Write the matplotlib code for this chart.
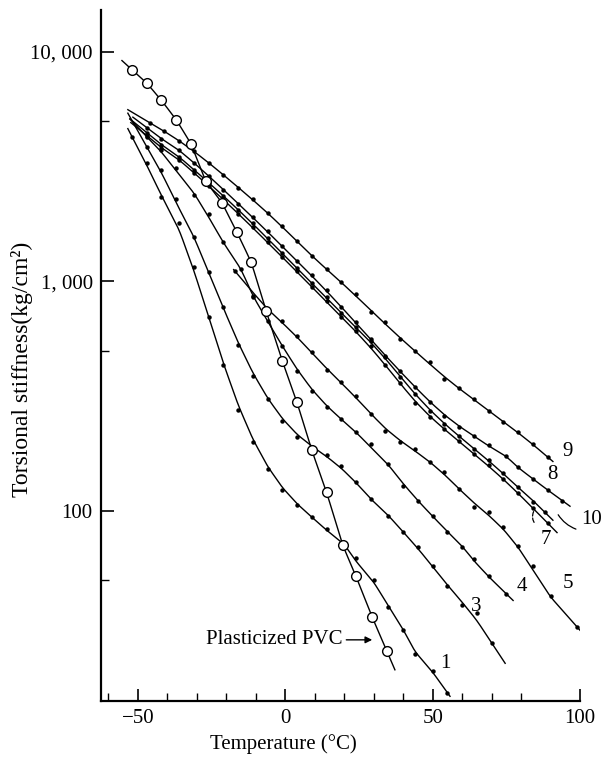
import numpy as np
import matplotlib.pyplot as plt
from matplotlib.ticker import FixedLocator, NullFormatter

plt.rcParams['font.family'] = ['Liberation Serif', 'DejaVu Serif']

# Plasticized PVC (open circles)
pvc_t = [-52, -47, -42, -37, -32, -27, -21.5, -16.5, -11.5, -6.5, -1, 4, 9, 14, 19.5, 24, 29.5, 34.5]
pvc_s = [8356, 7310, 6140, 5060, 3980, 2730, 2205, 1648, 1210, 743, 450, 297, 184, 121, 71, 52, 34.5, 24.5]

# numbered samples (filled dots)
t1 = [-52, -47, -42, -36, -31, -26, -21, -16, -11, -6, -1, 4, 9, 14, 20, 24, 30, 35, 40, 44, 50, 55]
s1 = [4270, 3292, 2342, 1787, 1151, 698, 431, 275, 200, 152, 123, 106, 94.2, 83.5, 71.9, 62.5, 50.1,
      38.2, 30.4, 23.9, 20.2, 16.2]

t3 = [-47, -42, -37, -31, -26, -21, -16, -11, -6, -1, 4, 9, 14, 19, 24, 29, 35, 40, 45, 50, 55, 60, 65, 70]
s3 = [3864, 3069, 2273, 1554, 1094, 771, 527, 386, 307, 246, 210, 190, 175, 157, 134, 113, 95.1, 81.0,
      69.7, 57.7, 47.2, 39.0, 36.0, 26.7]

t4 = [-47, -42, -37, -31, -26, -21, -15, -11, -6, -1, 4, 9, 14, 19, 24, 29, 35, 40, 45, 50, 55, 60, 64, 69, 75]
s4 = [4270, 3749, 3131, 2389, 1956, 1478, 1128, 861, 670, 522, 406, 332, 283, 251, 221, 196, 160, 128,
      111, 95.1, 81.0, 69.7, 61.8, 52.2, 43.6]

t5 = [-17, -11, -6, -1, 4, 9, 14, 19, 24, 29, 34, 39, 44, 49, 54, 59, 64, 69, 74, 79, 84, 90, 99]
s5 = [1106, 852, 748, 670, 577, 491, 410, 364, 316, 264, 223, 200, 186, 163, 148, 125, 104, 99, 85.2,
      70.4, 57.7, 42.7, 31.3]

t7 = [-47, -42, -36, -31, -26, -21, -16, -11, -6, -1, 4, 9, 14, 19, 24, 29, 34, 39, 44, 49, 54, 59, 64, 69,
      74, 79, 84, 89]
s7 = [4313, 3823, 3391, 2978, 2615, 2273, 1975, 1717, 1478, 1272, 1106, 942, 819, 698, 606, 522, 431, 360,
      295, 256, 227, 201, 177, 158, 138, 120, 103, 88.7]

t8 = [-47, -42, -36, -31, -26, -21, -16, -11, -6, -1, 4, 9, 14, 19, 24, 29, 34, 39, 44, 49, 54, 59, 64, 69,
      75, 79, 84, 89, 94]
s8 = [4673, 4184, 3749, 3292, 2890, 2512, 2183, 1898, 1650, 1420, 1222, 1062, 914, 771, 663, 559, 472, 406,
      346, 298, 259, 232, 212, 194, 173, 155, 138, 123, 111]

t9 = [-46, -41, -36, -31, -26, -21, -16, -11, -6, -1, 4, 9, 14, 19, 24, 29, 34, 39, 44, 49, 54, 59, 64, 69,
      74, 79, 84, 89]
s9 = [4913, 4535, 4103, 3712, 3292, 2919, 2563, 2273, 1995, 1734, 1493, 1284, 1128, 990, 878, 733, 663, 559,
      496, 444, 375, 343, 307, 272, 244, 221, 196, 172]

t10 = [-47, -42, -36, -31, -26, -21, -16, -11, -6, -1, 4, 9, 14, 19, 24, 29, 34, 39, 44, 49, 54, 59, 64, 69,
       74, 79, 84, 88]
s10 = [4444, 3942, 3495, 3069, 2694, 2365, 2056, 1787, 1538, 1324, 1139, 980, 852, 726, 631, 548, 467, 382,
       323, 272, 239, 212, 186, 167, 146, 127, 109, 99]

# temperature range covered by each drawn curve
line_range = {'1': (-53.4, 55.9), '3': (-53.4, 74.6), '4': (-52.7, 77.3), '5': (-17.5, 100),
              '7': (-52.4, 92.2), '8': (-51.7, 96.6), '9': (-53.4, 90.8), '10': (-52.7, 90.8),
              'pvc': (-55.4, 37.2)}

curves = {'1': (t1, s1), '3': (t3, s3), '4': (t4, s4), '5': (t5, s5), '7': (t7, s7),
          '8': (t8, s8), '9': (t9, s9), '10': (t10, s10)}


def drawn_line(t, s, t0, t1, passes=2):
    # hand-drawn looking curve: smoothed in log space, ends extended straight
    t = np.array(t, float)
    y = np.log10(np.array(s, float))
    for _ in range(passes):
        y_new = y.copy()
        y_new[1:-1] = 0.25 * y[:-2] + 0.5 * y[1:-1] + 0.25 * y[2:]
        y = y_new
    y0 = y[0] + (y[1] - y[0]) / (t[1] - t[0]) * (t0 - t[0])
    y1 = y[-1] + (y[-1] - y[-2]) / (t[-1] - t[-2]) * (t1 - t[-1])
    tt = np.concatenate([[t0], t, [t1]])
    yy = np.concatenate([[y0], y, [y1]])
    # densify with a little extra smoothing
    fine = np.linspace(t0, t1, 400)
    yf = np.interp(fine, tt, yy)
    k = np.ones(9) / 9
    yf_s = np.convolve(np.pad(yf, 4, mode='edge'), k, mode='valid')
    yf_s[:4] = yf[:4]
    yf_s[-4:] = yf[-4:]
    return fine, 10 ** yf_s


fig = plt.figure(figsize=(6.02, 7.66), dpi=100)
ax = fig.add_axes([0.1678, 0.0849, 0.7957, 0.9021])

for name, (t, s) in curves.items():
    tt, ss = drawn_line(t, s, *line_range[name])
    ax.plot(tt, ss, color='k', lw=1.0)
    ax.plot(t, s, 'o', color='k', ms=3.2, mew=0)

tt, ss = drawn_line(pvc_t, pvc_s, *line_range['pvc'], passes=0)
ax.plot(tt, ss, color='k', lw=1.0)
ax.plot(pvc_t, pvc_s, 'o', mfc='white', mec='k', ms=7, mew=1.0, zorder=5)

ax.set_yscale('log')
ax.set_xlim(-62.5, 100)
ax.set_ylim(14.9, 15200)

for side in ['top', 'right']:
    ax.spines[side].set_visible(False)
for side in ['left', 'bottom']:
    ax.spines[side].set_linewidth(1.6)

ax.set_yticks([100, 1000, 10000])
ax.set_yticklabels(['100', '1, 000', '10, 000'])
ax.yaxis.set_minor_locator(FixedLocator([50, 500, 5000]))
ax.yaxis.set_minor_formatter(NullFormatter())
ax.set_xticks([-50, 0, 50, 100])
ax.set_xticklabels(['\u221250', '0', '50', '100'])
ax.xaxis.set_minor_locator(FixedLocator([-60, -40, -30, -20, -10, 10, 20, 30, 40, 60, 70, 80]))

ax.tick_params(which='major', direction='in', length=9, width=1.2, labelsize=15, pad=6)
ax.tick_params(which='minor', direction='in', length=6, width=1.0)

# curve labels
ax.text(94, 182, '9', fontsize=15, va='center', ha='left')
ax.text(88.8, 145, '8', fontsize=15, va='center', ha='left')
ax.text(100.5, 92, '10', fontsize=15, va='center', ha='left', clip_on=False)
ax.text(86.5, 75.5, '7', fontsize=15, va='center', ha='left')
ax.text(94.2, 48.2, '5', fontsize=15, va='center', ha='left')
ax.text(78.6, 46.8, '4', fontsize=15, va='center', ha='left')
ax.text(64.7, 38.6, '3', fontsize=15, va='center', ha='center')
ax.text(54.2, 21.8, '1', fontsize=15, va='center', ha='center')

ax.annotate('', xy=(99.5, 82.7), xytext=(92.1, 98.7),
            arrowprops=dict(arrowstyle='-', lw=0.9, connectionstyle='arc3,rad=0.2'))
ax.annotate('', xy=(85.4, 86), xytext=(84.7, 102),
            arrowprops=dict(arrowstyle='-', lw=0.9, ls='--', connectionstyle='arc3,rad=0.4'))
ax.annotate('Plasticized PVC', xy=(29.5, 27.5), xytext=(19.3, 27.5), fontsize=15,
            ha='right', va='center',
            arrowprops=dict(arrowstyle='-|>', lw=1.0, color='k', mutation_scale=10, shrinkA=1, shrinkB=0))

fig.text(0.470, 0.0287, 'Temperature (\u00b0C)', fontsize=15, ha='center', va='center')
fig.text(0.0365, 0.518, 'Torsional stiffness(kg/cm\u00b2)', fontsize=17, ha='center', va='center',
         rotation=90)

fig.savefig('out.png', dpi=100)
